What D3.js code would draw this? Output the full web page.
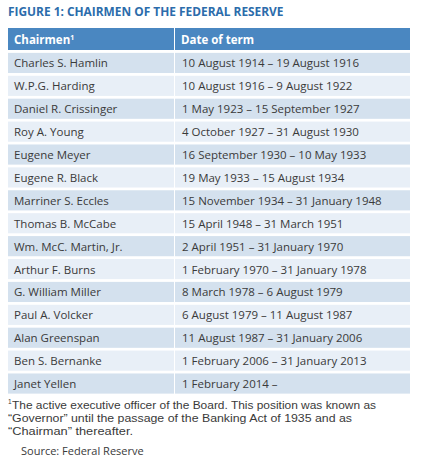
<!DOCTYPE html>
<html>
<head>
<meta charset="utf-8">
<script src="https://cdn.jsdelivr.net/npm/d3@7"></script>
<style>
  body { margin:0; background:#fff; }
  text { font-family:"Open Sans", sans-serif; }
</style>
</head>
<body>
<div id="chart-area"></div>
<script>
// data
var chairmen = ["Charles S. Hamlin", "W.P.G. Harding", "Daniel R. Crissinger", "Roy A. Young",
  "Eugene Meyer", "Eugene R. Black", "Marriner S. Eccles", "Thomas B. McCabe",
  "Wm. McC. Martin, Jr.", "Arthur F. Burns", "G. William Miller", "Paul A. Volcker",
  "Alan Greenspan", "Ben S. Bernanke", "Janet Yellen"];
var terms = ["10 August 1914 \u2013 19 August 1916", "10 August 1916 \u2013 9 August 1922",
  "1 May 1923 \u2013 15 September 1927", "4 October 1927 \u2013 31 August 1930",
  "16 September 1930 \u2013 10 May 1933", "19 May 1933 \u2013 15 August 1934",
  "15 November 1934 \u2013 31 January 1948", "15 April 1948 \u2013 31 March 1951",
  "2 April 1951 \u2013 31 January 1970", "1 February 1970 \u2013 31 January 1978",
  "8 March 1978 \u2013 6 August 1979", "6 August 1979 \u2013 11 August 1987",
  "11 August 1987 \u2013 31 January 2006", "1 February 2006 \u2013 31 January 2013",
  "1 February 2014 \u2013"];
var columns = ["Chairmen", "Date of term"];
var title = "FIGURE 1: CHAIRMEN OF THE FEDERAL RESERVE";
var footnote = ["The active executive officer of the Board. This position was known as",
  "\u201cGovernor\u201d until the passage of the Banking Act of 1935 and as",
  "\u201cChairman\u201d thereafter."];
var source = "Source: Federal Reserve";

var width = 422, height = 476;
var svg = d3.select("#chart-area").append("svg")
    .attr("width", width)
    .attr("height", height);

// table frame
var tableLeft = 8, tableRight = 410, colSplit = 174;
var headerTop = 28, headerBottom = 50;

var rowScale = d3.scaleBand()
    .domain(d3.range(chairmen.length))
    .range([51.5, 395])
    .paddingInner(0.12)
    .paddingOuter(0.06);

// title
svg.append("text")
    .attr("x", tableLeft)
    .attr("y", 16)
    .attr("fill", "#2c6cab")
    .attr("font-weight", "bold")
    .attr("font-size", "11.9px")
    .text(title);

// header
var colX = [tableLeft, colSplit + 1];
var colW = [colSplit - tableLeft, tableRight - colSplit - 1];
svg.selectAll(".head")
    .data(columns)
    .enter().append("rect")
    .attr("class", "head")
    .attr("x", (d, i) => colX[i])
    .attr("y", headerTop)
    .attr("width", (d, i) => colW[i])
    .attr("height", headerBottom - headerTop)
    .attr("fill", "#4a87c1");

var headText = svg.selectAll(".headText")
    .data(columns)
    .enter().append("text")
    .attr("class", "headText")
    .attr("x", (d, i) => colX[i] + 6)
    .attr("y", 43.5)
    .attr("fill", "#fff")
    .attr("font-weight", "bold")
    .attr("font-size", "11.5px")
    .text(d => d);
headText.filter((d, i) => i == 0).append("tspan")
    .attr("font-size", "7px")
    .attr("dy", "-4")
    .text("1");

// rows
var rows = svg.selectAll(".row")
    .data(chairmen)
    .enter().append("g")
    .attr("class", "row")
    .attr("transform", (d, i) => "translate(0," + rowScale(i) + ")");

rows.selectAll("rect")
    .data((d, i) => [i, i])
    .enter().append("rect")
    .attr("x", (d, j) => colX[j])
    .attr("width", (d, j) => colW[j])
    .attr("height", rowScale.bandwidth())
    .attr("fill", d => d % 2 == 0 ? "#d4e1ee" : "#e8eff7");

rows.append("text")
    .attr("x", colX[0] + 6)
    .attr("y", rowScale.bandwidth() / 2 + 4.5)
    .attr("fill", "#3a3a3a")
    .attr("font-size", "11.5px")
    .text(d => d);

rows.append("text")
    .attr("x", colX[1] + 7)
    .attr("y", rowScale.bandwidth() / 2 + 4.5)
    .attr("fill", "#3a3a3a")
    .attr("font-size", "11.5px")
    .text((d, i) => terms[i]);

// footnote (tighter font so lines sit 13px apart)
var footY = [409, 422, 435];
var footLen = [364, 344, 125];
footnote.forEach((line, i) => {
    svg.append("text")
        .attr("x", i == 0 ? tableLeft + 4 : tableLeft)
        .attr("y", footY[i])
        .attr("fill", "#3a3a3a")
        .style("font-family", "'Liberation Sans', sans-serif")
        .attr("font-size", "11.3px")
        .attr("textLength", footLen[i])
        .attr("lengthAdjust", "spacingAndGlyphs")
        .text(line);
});
svg.append("text")
    .attr("x", tableLeft)
    .attr("y", 404)
    .attr("fill", "#3a3a3a")
    .style("font-family", "'Liberation Sans', sans-serif")
    .attr("font-size", "6.5px")
    .text("1");

svg.append("text")
    .attr("x", tableLeft + 13)
    .attr("y", 455)
    .attr("fill", "#3a3a3a")
    .attr("font-size", "11px")
    .text(source);
</script>
</body>
</html>
